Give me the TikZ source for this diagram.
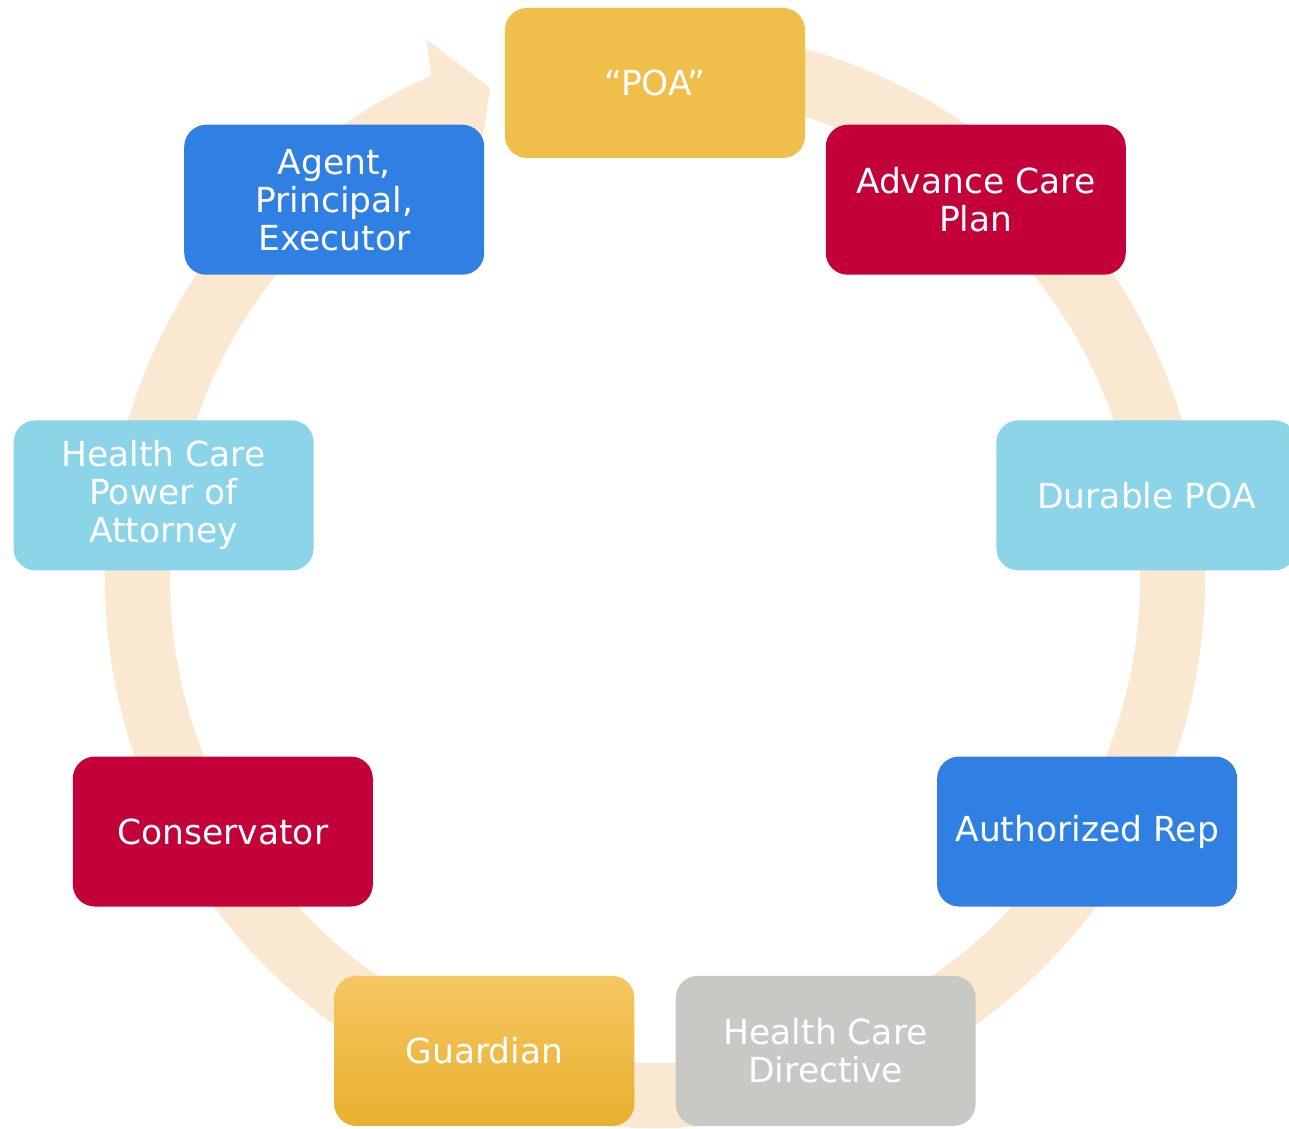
\documentclass[tikz,border=0pt]{standalone}
\usepackage{fontspec}
\setmainfont{DejaVu Sans}
\definecolor{ringpeach}{RGB}{250,232,209}
\definecolor{poagold}{RGB}{240,190,74}
\definecolor{carered}{RGB}{196,0,58}
\definecolor{skyblue}{RGB}{140,212,232}
\definecolor{repblue}{RGB}{47,128,226}
\definecolor{stone}{RGB}{200,201,197}
\definecolor{goldtop}{RGB}{245,198,98}
\definecolor{goldbot}{RGB}{233,176,46}

\begin{document}
\begin{tikzpicture}[x=1pt,y=1pt,
	term/.style={rectangle,rounded corners=22pt,minimum width=300pt,minimum height=150pt,
	inner sep=0pt,align=center,text=white,font=\fontsize{34.5}{38}\selectfont}]
\useasboundingbox (-655,-550) rectangle (634,578);
% the circular arrow behind the boxes
\fill[ringpeach] (80:550) arc[start angle=80,end angle=-246,radius=550]
	-- (-247:585) -- (-251.4:517) -- (-247:450) -- (-246:485)
	arc[start angle=-246,end angle=80,radius=485] -- cycle;
\begin{scope}[yshift=-4pt]
\node[term,fill=poagold] (poa) at (90:499) {“POA”};
\node[term,fill=carered] (acp) at (50:499) {Advance Care\\Plan};
\node[term,fill=skyblue] (dpoa) at (10:499) {Durable POA};
\node[term,fill=repblue] (rep) at (-30:499) {Authorized Rep};
\node[term,fill=stone] (hcd) at (-70:499) {Health Care\\Directive};
\node[term,top color=goldtop,bottom color=goldbot] (guard) at (-110:499) {Guardian};
\node[term,fill=carered] (cons) at (-150:499) {Conservator};
\node[term,fill=skyblue] (hcpoa) at (170:499) {Health Care\\Power of\\Attorney};
\node[term,fill=repblue] (agent) at (130:499) {Agent,\\Principal,\\Executor};
\end{scope}
\end{tikzpicture}
\end{document}
